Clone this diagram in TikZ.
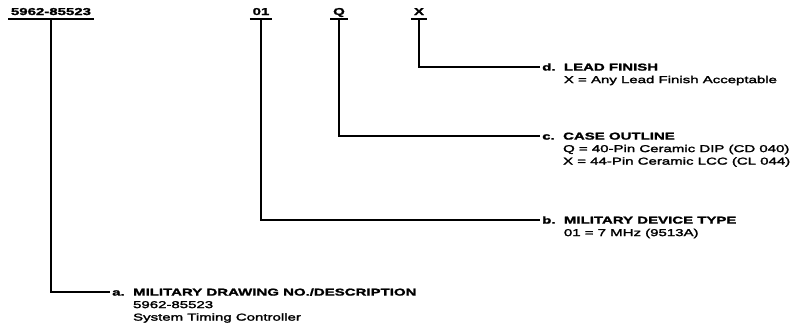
\documentclass[tikz,border=0pt]{standalone}
\usepackage{fontspec}
\setmainfont{Liberation Sans}[FakeStretch=1.5]
\newfontfamily\detfont{Liberation Sans}[FakeStretch=1.5,FakeBold=2.2]
\newfontfamily\titfont{Liberation Sans}[FakeStretch=1.5,BoldFeatures={FakeBold=1.6}]
\usetikzlibrary{calc}
\begin{document}
\begin{tikzpicture}[x=1pt,y=-1pt,
  font=\fontsize{10}{12.5}\selectfont,
  conn/.style={line width=1.6pt},
  code/.style={font=\fontsize{10}{12.5}\selectfont\titfont\bfseries, anchor=base,
    inner xsep=2.5pt, inner ysep=3.5pt, text depth=0pt},
  letter/.style={font=\fontsize{10}{12.5}\selectfont\titfont\bfseries, anchor=base west,
    inner xsep=2pt, inner ysep=0pt, text height=7.2pt, text depth=0pt},
  title/.style={font=\fontsize{10}{12.5}\selectfont\titfont\bfseries, anchor=base west, inner sep=0pt},
  detail/.style={font=\fontsize{10}{12.5}\selectfont\detfont, anchor=base west, inner sep=0pt}
]
\useasboundingbox (0,0) rectangle (798,335);

% part number fields
\node[code] (cA) at (51,15) {5962-85523};
\node[code] (cB) at (261,15) {01};
\node[code] (cC) at (339,15) {Q};
\node[code] (cD) at (419,15) {X};
\foreach \n in {cA,cB,cC,cD}
  \draw[conn] (\n.south west) -- (\n.south east);

% d. lead finish
\node[letter] (dL) at (540,70.6) {d.};
\node[title] (dT) at ([xshift=6pt]dL.base east) {LEAD FINISH};
\node[detail] (dD) at ($(dT.base west)+(0,12.5)$)
  {\begin{tabular}[t]{@{}l@{}}X = Any Lead Finish Acceptable\end{tabular}};

% c. case outline
\node[letter] (cL) at (540,139.6) {c.};
\node[title] (cT) at ([xshift=6pt]cL.base east) {CASE OUTLINE};
\node[detail] (cD2) at ($(cT.base west)+(0,12.5)$)
  {\begin{tabular}[t]{@{}l@{}}Q = 40-Pin Ceramic DIP (CD 040)\\X = 44-Pin Ceramic LCC (CL 044)\end{tabular}};

% b. military device type
\node[letter] (bL) at (540,223.6) {b.};
\node[title] (bT) at ([xshift=6pt]bL.base east) {MILITARY DEVICE TYPE};
\node[detail] (bD) at ($(bT.base west)+(0,12.5)$)
  {\begin{tabular}[t]{@{}l@{}}01 = 7 MHz (9513A)\end{tabular}};

% a. military drawing
\node[letter] (aL) at (110,295.6) {a.};
\node[title] (aT) at ([xshift=6pt]aL.base east) {MILITARY DRAWING NO./DESCRIPTION};
\node[detail] (aD) at ($(aT.base west)+(0,12.5)$)
  {\begin{tabular}[t]{@{}l@{}}5962-85523\\System Timing Controller\end{tabular}};

% connectors
\draw[conn] (cD.south) |- (dL.west);
\draw[conn] (cC.south) |- (cL.west);
\draw[conn] (cB.south) |- (bL.west);
\draw[conn] (cA.south) |- (aL.west);
\end{tikzpicture}
\end{document}
